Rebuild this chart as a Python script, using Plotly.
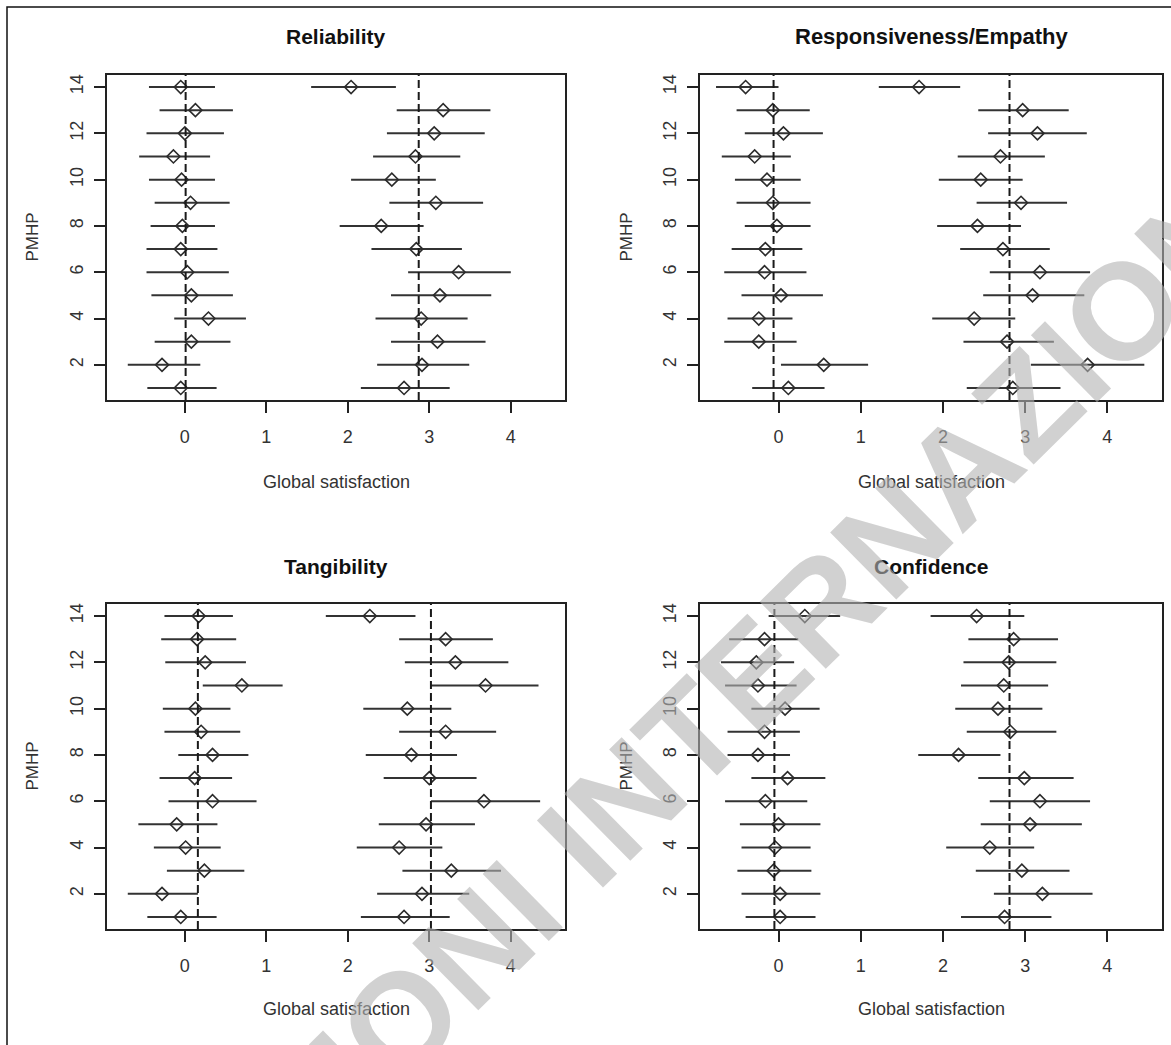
import plotly.graph_objects as go

W, H = 1171, 1045

pmhp = list(range(1, 15))
x_ticks = [0, 1, 2, 3, 4]
y_ticks = [2, 4, 6, 8, 10, 12, 14]
panel_titles = ["Reliability", "Responsiveness/Empathy", "Tangibility", "Confidence"]
x_title = "Global satisfaction"
y_title = "PMHP"
watermark = "EDIZIONI INTERNAZIONALI"

# ---- Reliability ----
rel_left_mean = [-0.05, -0.28, 0.08, 0.29, 0.08, 0.03, -0.05, -0.03, 0.07, -0.04, -0.14, 0.00, 0.13, -0.05]
rel_left_lo = [-0.46, -0.70, -0.37, -0.13, -0.41, -0.47, -0.47, -0.42, -0.37, -0.44, -0.56, -0.47, -0.31, -0.44]
rel_left_hi = [0.39, 0.19, 0.56, 0.75, 0.59, 0.54, 0.40, 0.37, 0.55, 0.37, 0.31, 0.48, 0.59, 0.37]
rel_right_mean = [2.69, 2.91, 3.10, 2.90, 3.13, 3.36, 2.84, 2.41, 3.08, 2.54, 2.83, 3.06, 3.17, 2.04]
rel_right_lo = [2.16, 2.36, 2.53, 2.34, 2.53, 2.74, 2.29, 1.90, 2.51, 2.04, 2.31, 2.48, 2.60, 1.55]
rel_right_hi = [3.25, 3.49, 3.69, 3.47, 3.76, 4.00, 3.40, 2.93, 3.66, 3.08, 3.38, 3.68, 3.75, 2.59]
rel_refs = [0.01, 2.87]

# ---- Responsiveness/Empathy ----
res_left_mean = [0.12, 0.55, -0.24, -0.24, 0.03, -0.17, -0.16, -0.02, -0.07, -0.14, -0.29, 0.06, -0.07, -0.40]
res_left_lo = [-0.32, 0.03, -0.66, -0.62, -0.45, -0.66, -0.57, -0.41, -0.51, -0.53, -0.69, -0.41, -0.51, -0.76]
res_left_hi = [0.56, 1.09, 0.22, 0.17, 0.54, 0.34, 0.29, 0.39, 0.39, 0.27, 0.15, 0.54, 0.38, 0.00]
res_right_mean = [2.85, 3.76, 2.78, 2.38, 3.09, 3.18, 2.73, 2.42, 2.95, 2.46, 2.70, 3.15, 2.97, 1.71]
res_right_lo = [2.29, 3.07, 2.25, 1.87, 2.49, 2.57, 2.21, 1.93, 2.41, 1.95, 2.18, 2.55, 2.43, 1.22]
res_right_hi = [3.43, 4.45, 3.35, 2.88, 3.72, 3.79, 3.30, 2.95, 3.51, 2.97, 3.24, 3.75, 3.53, 2.21]
res_refs = [-0.06, 2.81]

# ---- Tangibility ----
tan_left_mean = [-0.05, -0.28, 0.24, 0.01, -0.10, 0.34, 0.12, 0.34, 0.20, 0.13, 0.70, 0.25, 0.15, 0.17]
tan_left_lo = [-0.46, -0.70, -0.22, -0.38, -0.57, -0.20, -0.31, -0.08, -0.25, -0.27, 0.22, -0.24, -0.29, -0.25]
tan_left_hi = [0.39, 0.16, 0.73, 0.44, 0.40, 0.88, 0.58, 0.78, 0.68, 0.56, 1.20, 0.75, 0.63, 0.59]
tan_right_mean = [2.69, 2.91, 3.27, 2.63, 2.96, 3.67, 3.00, 2.78, 3.20, 2.73, 3.69, 3.32, 3.20, 2.27]
tan_right_lo = [2.16, 2.36, 2.67, 2.11, 2.38, 3.02, 2.44, 2.22, 2.63, 2.19, 3.02, 2.70, 2.63, 1.73]
tan_right_hi = [3.25, 3.49, 3.88, 3.16, 3.56, 4.36, 3.58, 3.34, 3.82, 3.27, 4.34, 3.97, 3.78, 2.83]
tan_refs = [0.16, 3.02]

# ---- Confidence ----
con_left_mean = [0.02, 0.02, -0.06, -0.04, 0.00, -0.16, 0.11, -0.25, -0.17, 0.08, -0.25, -0.27, -0.17, 0.32]
con_left_lo = [-0.40, -0.45, -0.50, -0.45, -0.47, -0.65, -0.33, -0.62, -0.62, -0.33, -0.65, -0.70, -0.60, -0.12]
con_left_hi = [0.45, 0.51, 0.40, 0.39, 0.51, 0.35, 0.57, 0.14, 0.26, 0.50, 0.22, 0.19, 0.24, 0.75]
con_right_mean = [2.75, 3.21, 2.96, 2.57, 3.06, 3.18, 2.99, 2.19, 2.82, 2.67, 2.74, 2.80, 2.86, 2.41]
con_right_lo = [2.22, 2.62, 2.40, 2.04, 2.46, 2.57, 2.43, 1.70, 2.29, 2.15, 2.22, 2.25, 2.31, 1.85]
con_right_hi = [3.32, 3.82, 3.54, 3.11, 3.69, 3.79, 3.59, 2.70, 3.38, 3.21, 3.28, 3.38, 3.40, 2.99]
con_refs = [-0.05, 2.81]

panels = [
    (rel_left_mean, rel_left_lo, rel_left_hi, rel_right_mean, rel_right_lo, rel_right_hi, rel_refs),
    (res_left_mean, res_left_lo, res_left_hi, res_right_mean, res_right_lo, res_right_hi, res_refs),
    (tan_left_mean, tan_left_lo, tan_left_hi, tan_right_mean, tan_right_lo, tan_right_hi, tan_refs),
    (con_left_mean, con_left_lo, con_left_hi, con_right_mean, con_right_lo, con_right_hi, con_refs),
]

# panel boxes in pixels (left, right, top, bottom)
boxes = [(107, 565, 75, 400), (700, 1162, 75, 400), (107, 565, 604, 929), (700, 1162, 604, 929)]
title_y = [36, 36, 566, 566]
xlab_y = [482, 482, 1009, 1009]
ylab_x = [32, 626, 32, 626]

FONT = "Liberation Sans, Arial, Helvetica, sans-serif"
INK = "#2b2b2b"

fig = go.Figure()
annotations = []
shapes = []

for i, (lm, llo, lhi, rm, rlo, rhi, refs) in enumerate(panels):
    n = i + 1
    xa = "x" if n == 1 else f"x{n}"
    ya = "y" if n == 1 else f"y{n}"
    for mean, lo, hi in ((lm, llo, lhi), (rm, rlo, rhi)):
        fig.add_trace(go.Scatter(
            x=mean, y=pmhp, xaxis=xa, yaxis=ya, mode="markers",
            marker=dict(symbol="diamond-open", size=10, color=INK, line=dict(width=1.6, color=INK)),
            error_x=dict(type="data", symmetric=False,
                         array=[h - m for h, m in zip(hi, mean)],
                         arrayminus=[m - l for m, l in zip(mean, lo)],
                         width=0, thickness=2, color="#333333"),
            showlegend=False, hoverinfo="skip",
        ))
    for r in refs:
        shapes.append(dict(type="line", xref=xa, yref=f"{ya} domain", x0=r, x1=r, y0=0, y1=1,
                           line=dict(color="#1a1a1a", width=2, dash="8px,4px")))

    L, R, T, B = boxes[i]
    xd = [L / W, R / W]
    yd = [1 - B / H, 1 - T / H]
    axis_common = dict(showgrid=False, zeroline=False, showline=True, mirror=True,
                       linecolor="#222222", linewidth=2, ticks="outside", ticklen=11,
                       tickwidth=1.6, tickcolor="#222222",
                       tickfont=dict(family=FONT, size=18, color="#333333"))
    fig.layout[f"xaxis{'' if n == 1 else n}"] = dict(
        domain=xd, anchor=ya, range=[-0.955, 4.665], tickvals=x_ticks,
        ticktext=[str(v) for v in x_ticks], ticklabelstandoff=8, **axis_common)
    fig.layout[f"yaxis{'' if n == 1 else n}"] = dict(
        domain=yd, anchor=xa, range=[0.48, 14.52], tickvals=y_ticks,
        ticktext=[str(v) for v in y_ticks], tickangle=-90, ticklabelstandoff=4, **axis_common)

    cx = (L + R) / 2
    title_size = 22 if len(panel_titles[i]) > 15 else 21
    annotations.append(dict(text=panel_titles[i], xref="paper", yref="paper",
                            x=cx / W, y=1 - title_y[i] / H, showarrow=False,
                            xanchor="center", yanchor="middle",
                            font=dict(family=FONT, size=title_size, color="#111111", weight="bold")))
    annotations.append(dict(text=x_title, xref="paper", yref="paper",
                            x=cx / W, y=1 - xlab_y[i] / H, showarrow=False,
                            xanchor="center", yanchor="middle",
                            font=dict(family=FONT, size=18, color="#333333")))
    annotations.append(dict(text=y_title, xref="paper", yref="paper",
                            x=ylab_x[i] / W, y=1 - ((T + B) / 2) / H, showarrow=False,
                            xanchor="center", yanchor="middle", textangle=-90,
                            font=dict(family=FONT, size=17, color="#333333")))

# watermark overlay
annotations.append(dict(text=watermark, xref="paper", yref="paper",
                        x=750 / W, y=1 - 676 / H, showarrow=False,
                        xanchor="center", yanchor="middle", textangle=-44.5,
                        font=dict(family=FONT, size=137, color="rgba(178,178,178,0.6)", weight="bold")))

# outer frame (left and top edges visible)
shapes.append(dict(type="rect", xref="paper", yref="paper",
                   x0=7 / W, x1=1.02, y0=-0.02, y1=1 - 7 / H,
                   line=dict(color="#111111", width=1.5)))

fig.update_layout(
    width=W, height=H, margin=dict(l=0, r=0, t=0, b=0),
    paper_bgcolor="white", plot_bgcolor="white",
    annotations=annotations, shapes=shapes,
)

fig.write_html("out.html", config={"displayModeBar": False},
               post_script="document.body.style.margin='0';")
